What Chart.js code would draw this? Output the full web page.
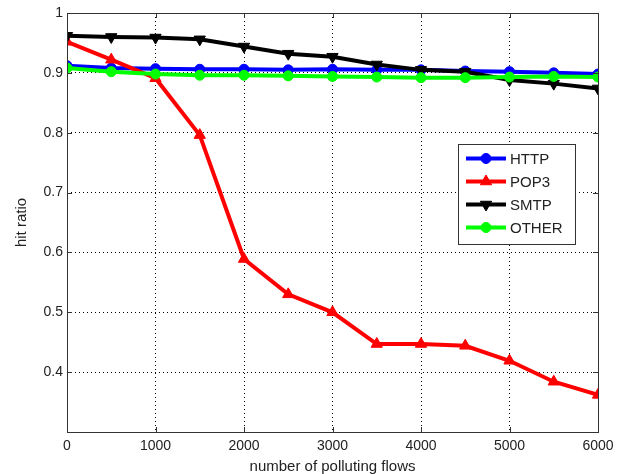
<!DOCTYPE html>
<html>
<head>
<meta charset="utf-8">
<script src="https://cdn.jsdelivr.net/npm/chart.js@4.4.1/dist/chart.umd.min.js"></script>
<style>
html,body{margin:0;padding:0;background:#fff;}
#wrap{width:630px;height:474px;}
</style>
</head>
<body>
<div id="wrap"><canvas id="c" width="630" height="474"></canvas></div>
<script>
const flows = [0,500,1000,1500,2000,2500,3000,3500,4000,4500,5000,5500,6000];
const http  = [0.912,0.908,0.907,0.906,0.906,0.905,0.906,0.905,0.905,0.903,0.902,0.900,0.898];
const pop3  = [0.952,0.922,0.891,0.796,0.589,0.530,0.500,0.447,0.447,0.444,0.419,0.384,0.362];
const smtp  = [0.962,0.960,0.959,0.956,0.944,0.932,0.927,0.914,0.905,0.902,0.888,0.882,0.874];
const other = [0.908,0.902,0.898,0.896,0.896,0.895,0.894,0.893,0.892,0.892,0.893,0.894,0.893];
const yTicks = [0.3,0.4,0.5,0.6,0.7,0.8,0.9,1];
const xTicks = [0,1000,2000,3000,4000,5000,6000];
const seriesNames = ['HTTP','POP3','SMTP','OTHER'];

const FONT = '"Liberation Sans", Arial, Helvetica, sans-serif';
const pts = arr => arr.map((v,i)=>({x:flows[i], y:v}));

function ds(label, data, color, style, rot, radius, order){
  return {label, data: pts(data), borderColor: color, backgroundColor: color,
    borderWidth: 4, pointStyle: style, pointRotation: rot, pointRadius: radius,
    pointBorderWidth: 1, pointBorderColor: color, pointBackgroundColor: color,
    tension: 0, fill: false, order};
}

const framePlugin = {
  id: 'frame',
  afterDraw(chart){
    const {ctx, chartArea:a, scales} = chart;
    ctx.save();
    ctx.strokeStyle = '#333';
    ctx.lineWidth = 1;
    ctx.strokeRect(Math.round(a.left)+0.5, Math.round(a.top)+0.5, Math.round(a.right-a.left), Math.round(a.bottom-a.top));
    ctx.beginPath();
    xTicks.forEach(v=>{
      const px = Math.round(scales.x.getPixelForValue(v))+0.5;
      ctx.moveTo(px, a.bottom); ctx.lineTo(px, a.bottom-5);
      ctx.moveTo(px, a.top); ctx.lineTo(px, a.top+5);
    });
    yTicks.forEach(v=>{
      const py = Math.round(scales.y.getPixelForValue(v))+0.5;
      ctx.moveTo(a.left, py); ctx.lineTo(a.left+5, py);
      ctx.moveTo(a.right, py); ctx.lineTo(a.right-5, py);
    });
    ctx.stroke();

    // legend
    const bx = 458.5, by = 144.5, bw = 117, bh = 100;
    ctx.fillStyle = '#fff';
    ctx.fillRect(bx, by, bw, bh);
    ctx.strokeStyle = '#333';
    ctx.lineWidth = 1;
    ctx.strokeRect(bx, by, bw, bh);
    [0,1,2,3].forEach((i,k)=>{
      const d = chart.data.datasets[i];
      const yy = by + 14 + k*23;
      ctx.strokeStyle = d.borderColor;
      ctx.lineWidth = 4;
      ctx.beginPath(); ctx.moveTo(466, yy); ctx.lineTo(506, yy); ctx.stroke();
      ctx.lineWidth = 1;
      ctx.fillStyle = d.borderColor;
      Chart.helpers.drawPoint(ctx, {pointStyle: d.pointStyle, rotation: d.pointRotation, radius: d.pointRadius, borderWidth: 1}, 486, yy);
      ctx.fillStyle = '#222';
      ctx.font = '15px ' + FONT;
      ctx.textBaseline = 'middle';
      ctx.textAlign = 'left';
      ctx.fillText(d.label, 510, yy+1);
    });
    ctx.restore();
  }
};

const bgPlugin = {
  id:'bg',
  beforeDraw(chart){
    const ctx = chart.ctx; ctx.save(); ctx.fillStyle='#fff'; ctx.fillRect(0,0,chart.width,chart.height); ctx.restore();
  }
};

new Chart(document.getElementById('c'), {
  type: 'line',
  data: {
    datasets: [
      ds(seriesNames[0], http, '#0000ff', 'circle', 0, 5, 4),
      ds(seriesNames[1], pop3, '#ff0000', 'triangle', 0, 6.5, 3),
      ds(seriesNames[2], smtp, '#000000', 'triangle', 180, 6.5, 2),
      ds(seriesNames[3], other, '#00ff00', 'circle', 0, 5, 1)
    ]
  },
  options: {
    responsive: false,
    animation: false,
    devicePixelRatio: 1,
    layout: { padding: { top: 13, right: 32, left: 0, bottom: 0 } },
    plugins: { legend: { display: false }, tooltip: { enabled: false } },
    scales: {
      x: {
        type: 'linear', min: 0, max: 6000,
        afterBuildTicks: s => { s.ticks = xTicks.map(v=>({value:v})); },
        afterFit: s => { s.height = 42; },
        grid: { color: '#000', lineWidth: 1, drawTicks: false },
        border: { display: false, dash: [1,3] },
        ticks: { color: '#222', font: { family: FONT, size: 14 }, padding: 6, maxRotation: 0,
          callback: v => String(v) },
        title: { display: true, text: 'number of polluting flows', color: '#222', font: { family: FONT, size: 15 }, padding: { top: 0, bottom: -2 } }
      },
      y: {
        type: 'linear', min: 0.3, max: 1,
        afterBuildTicks: s => { s.ticks = yTicks.map(v=>({value:v})); },
        afterFit: s => { s.width = 67; },
        grid: { color: '#000', lineWidth: 1, drawTicks: false },
        border: { display: false, dash: [1,3] },
        ticks: { color: '#222', font: { family: FONT, size: 14 }, padding: 4,
          callback: v => (Math.abs(v-0.3)<1e-6 ? '' : (Math.abs(v-1)<1e-6 ? '1' : v.toFixed(1))) },
        title: { display: true, text: 'hit ratio', color: '#222', font: { family: FONT, size: 15 }, padding: { top: 13, bottom: 0 } }
      }
    }
  },
  plugins: [bgPlugin, framePlugin]
});
</script>
</body>
</html>
